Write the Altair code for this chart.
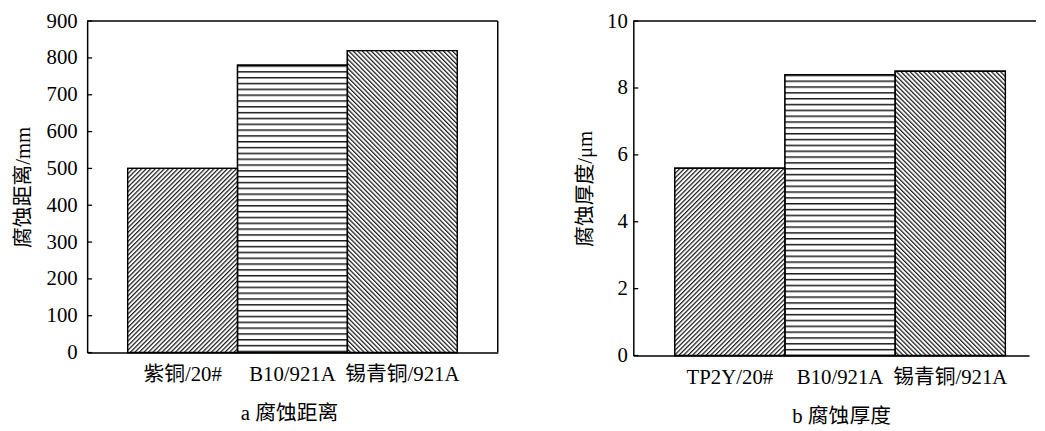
import base64
import math
import altair as alt
import pandas as pd

# ---- data ----
cats_a = ["紫铜/20#", "B10/921A", "锡青铜/921A"]
vals_a = [500, 780, 820]
ticks_a = [0, 100, 200, 300, 400, 500, 600, 700, 800, 900]

cats_b = ["TP2Y/20#", "B10/921A", "锡青铜/921A"]
vals_b = [5.6, 8.4, 8.5]
ticks_b = [0, 2, 4, 6, 8, 10]

patterns = ["/", "-", "\\"]

FONT = "Liberation Serif, Times New Roman, Noto Sans CJK SC"
FS = 21
INK = "#1a1a1a"


def hatch_uri(kind, w, h):
    """A tiling hatch drawn as a small SVG image of the bar's size (style only)."""
    w = math.ceil(w)
    h = math.ceil(h)
    if kind == "-":
        pat = (f'<pattern id="p" patternUnits="userSpaceOnUse" width="10" height="5.9">'
               f'<rect x="0" y="0" width="10" height="1.5" fill="{INK}"/></pattern>')
    else:
        ang = 45 if kind == "/" else -45
        pat = (f'<pattern id="p" patternUnits="userSpaceOnUse" width="3.25" height="10" '
               f'patternTransform="rotate({ang})">'
               f'<rect x="0" y="0" width="1.25" height="10" fill="{INK}"/></pattern>')
    svg = (f'<svg xmlns="http://www.w3.org/2000/svg" width="{w}" height="{h}">'
           f'<defs>{pat}</defs><rect x="0" y="0" width="{w}" height="{h}" fill="white"/>'
           f'<rect x="0" y="0" width="{w}" height="{h}" fill="url(#p)"/></svg>')
    return "data:image/svg+xml;base64," + base64.b64encode(svg.encode()).decode()


def panel(cats, vals, ticks, ymax, W, H, ytitle, xtitle, po, align,
          lab_pad, title_pad, right_border, title_x, top_extra):
    df = pd.DataFrame({"cat": cats, "val": vals})
    xscale = alt.Scale(domain=cats, paddingInner=0, paddingOuter=po, align=align)
    yscale = alt.Scale(domain=[0, ymax], nice=False, zero=True)
    xaxis = alt.Axis(title=xtitle, labelAngle=0, ticks=False, tickSize=0,
                     labelPadding=11, titlePadding=19, domainWidth=1.5,
                     titleX=title_x)
    yaxis = alt.Axis(title=ytitle, values=ticks, ticks=False, tickSize=0,
                     labelPadding=lab_pad, titlePadding=title_pad,
                     domainWidth=1.5, grid=False)
    X = alt.X("cat:N", scale=xscale, sort=cats, axis=xaxis)
    Y = alt.Y("val:Q", scale=yscale, axis=yaxis)
    bw = W / (3 + 2 * po)
    layers = [alt.Chart(df).mark_bar(fill="white", stroke="black", strokeWidth=1.4)
              .encode(x=X, y=Y)]
    for c, v, p in zip(cats, vals, patterns):
        layers.append(
            alt.Chart(df)
            .transform_filter(alt.datum.cat == c)
            .mark_image(aspect=False)
            .encode(x=X, y=Y, y2=alt.datum(0),
                    url=alt.value(hatch_uri(p, bw, v / ymax * H)))
        )
    layers.append(alt.Chart(df).mark_bar(fillOpacity=0, stroke="black", strokeWidth=1.4)
                  .encode(x=X, y=Y))
    tdf = pd.DataFrame({"val": ticks})
    layers.append(
        alt.Chart(tdf).mark_rule(color="black", strokeWidth=1.3)
        .encode(y=alt.Y("val:Q", scale=yscale, axis=yaxis),
                x=alt.value(0), x2=alt.value(5))
    )
    one = pd.DataFrame({"k": [0]})
    layers.append(
        alt.Chart(one).mark_rule(color="black", strokeWidth=1.5)
        .encode(x=alt.value(0), x2=alt.value(W + top_extra), y=alt.value(0))
    )
    if right_border:
        layers.append(
            alt.Chart(one).mark_rule(color="black", strokeWidth=1.5)
            .encode(x=alt.value(W), y=alt.value(0), y2=alt.value(H))
        )
    return alt.layer(*layers).properties(width=W, height=H)


left = panel(cats_a, vals_a, ticks_a, 900, 415, 335, "腐蚀距离/mm", "a 腐蚀距离",
             0.369, 0.5, 10, 13, True, 204, 0)
right = panel(cats_b, vals_b, ticks_b, 10, 400, 338, "腐蚀厚度/μm", "b 腐蚀厚度",
              0.296, 0.636, 6, 11, False, 210, 7)

chart = (
    alt.hconcat(left, right, spacing=77)
    .properties(padding={"left": 4, "top": 0, "right": 0, "bottom": 0},
                background="white")
    .configure_view(stroke="transparent", strokeWidth=0)
    .configure_axis(labelFont=FONT, titleFont=FONT, labelFontSize=FS,
                    titleFontSize=FS, titleFontWeight="normal",
                    labelColor="black", titleColor="black",
                    domainColor="black", grid=False)
)

chart.save("out.html", embed_options={"renderer": "svg", "actions": False})
